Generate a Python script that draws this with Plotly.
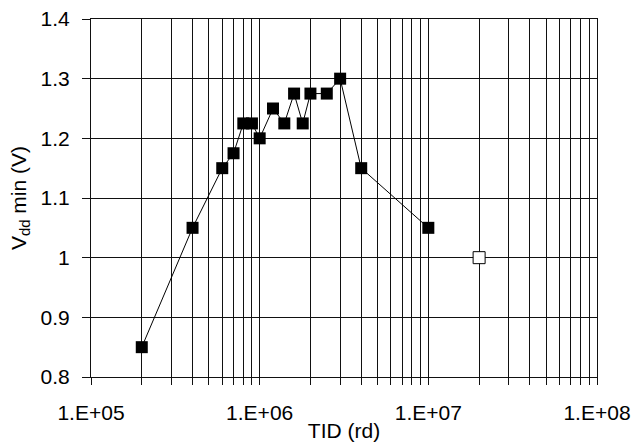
import plotly.graph_objects as go

# Data
tid_rd = [2e5, 4e5, 6e5, 7e5, 8e5, 9e5, 1e6, 1.2e6, 1.4e6, 1.6e6, 1.8e6, 2e6, 2.5e6, 3e6, 4e6, 1e7]
vdd_min = [0.85, 1.05, 1.15, 1.175, 1.225, 1.225, 1.2, 1.25, 1.225, 1.275, 1.225, 1.275, 1.275, 1.3, 1.15, 1.05]
open_tid = [2e7]
open_vdd = [1.0]

decades = [1e5, 1e6, 1e7, 1e8]
decade_labels = ["1.E+05", "1.E+06", "1.E+07", "1.E+08"]
y_ticks = [0.8, 0.9, 1.0, 1.1, 1.2, 1.3, 1.4]

# minor log grid positions (2..9 x decade)
minor_vals = [d * m for d in decades[:-1] for m in range(2, 10)]

font = "Arial, Liberation Sans, sans-serif"
FS = 21
GC = "#111"

fig = go.Figure()
fig.add_trace(go.Scatter(
    x=tid_rd, y=vdd_min, mode="lines+markers",
    line=dict(color="black", width=1),
    marker=dict(symbol="square", size=12, color="black", line=dict(color="black", width=0)),
    showlegend=False,
))
fig.add_trace(go.Scatter(
    x=open_tid, y=open_vdd, mode="markers",
    marker=dict(symbol="square", size=12, color="white", line=dict(color="black", width=1)),
    showlegend=False,
))

fig.update_layout(
    width=636, height=443,
    margin=dict(l=91, r=39, t=19, b=66),
    paper_bgcolor="white", plot_bgcolor="white",
    font=dict(family=font, size=FS, color="black"),
)
fig.update_xaxes(
    type="log", range=[5, 8], automargin=False,
    tickvals=decades, ticktext=decade_labels,
    showgrid=True, gridcolor=GC, gridwidth=1.2,
    ticks="outside", ticklen=7, tickcolor=GC, tickwidth=1.2,
    minor=dict(tickvals=minor_vals, showgrid=True, gridcolor=GC, gridwidth=1.2,
               ticks="outside", ticklen=7, tickcolor=GC, tickwidth=1.2),
    ticklabelstandoff=10,
    showline=True, linecolor=GC, linewidth=1.2, mirror=True,
    zeroline=False,
    tickfont=dict(size=FS),
    title=dict(text="TID (rd)", font=dict(size=FS), standoff=0),
)
fig.update_yaxes(
    range=[0.8, 1.4], automargin=False,
    tickvals=y_ticks,
    showgrid=True, gridcolor=GC, gridwidth=1.2,
    ticks="outside", ticklen=8, tickcolor=GC, tickwidth=1.2,
    ticklabelstandoff=8,
    showline=True, linecolor=GC, linewidth=1.2, mirror=True,
    zeroline=False,
    tickfont=dict(size=FS),
    title=dict(text="V<sub>dd</sub> min (V)", font=dict(size=FS), standoff=8),
)

fig.write_html("out.html", config={"displayModeBar": False},
               post_script="document.body.style.margin='0px';")
